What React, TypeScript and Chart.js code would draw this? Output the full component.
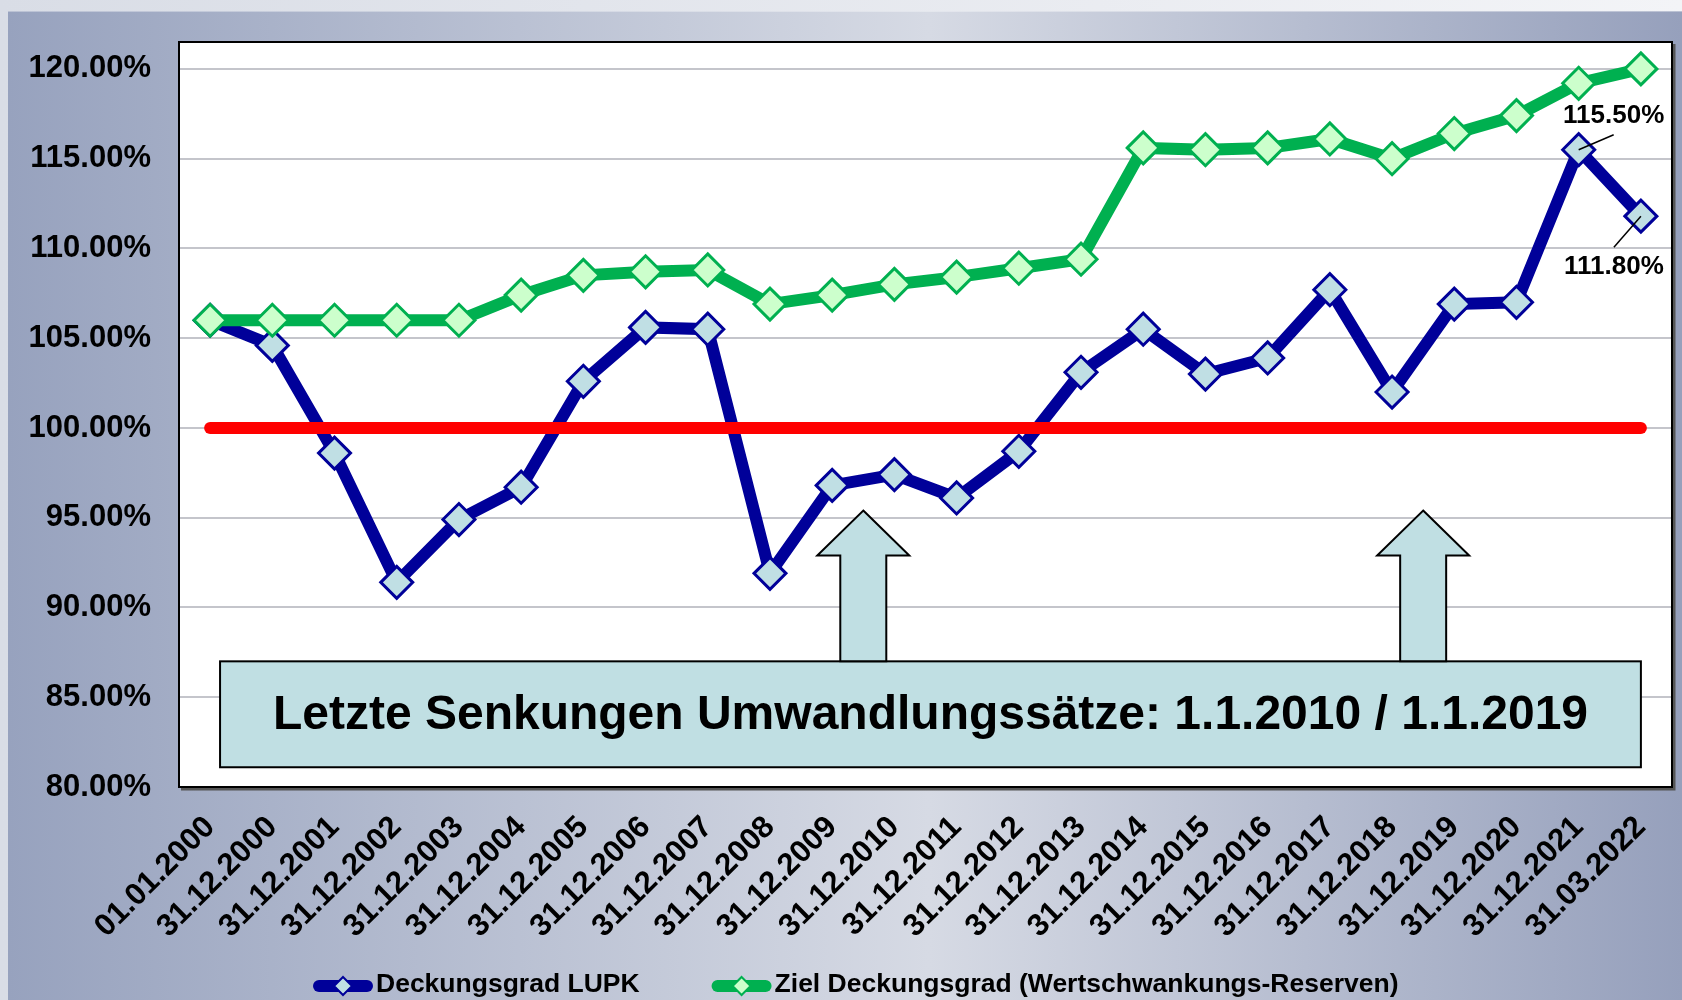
import React, { useEffect, useRef } from 'react';
import { Chart, registerables } from 'chart.js';

Chart.register(...registerables);

const FONT = '"Liberation Sans", Arial, Helvetica, sans-serif';

const categories = [
  '01.01.2000', '31.12.2000', '31.12.2001', '31.12.2002', '31.12.2003', '31.12.2004',
  '31.12.2005', '31.12.2006', '31.12.2007', '31.12.2008', '31.12.2009', '31.12.2010',
  '31.12.2011', '31.12.2012', '31.12.2013', '31.12.2014', '31.12.2015', '31.12.2016',
  '31.12.2017', '31.12.2018', '31.12.2019', '31.12.2020', '31.12.2021', '31.03.2022',
];

const deckungsgradLUPK = [
  106.0, 104.6, 98.6, 91.4, 94.9, 96.7, 102.6, 105.6, 105.5, 91.9, 96.8, 97.4,
  96.1, 98.7, 103.1, 105.5, 103.0, 103.9, 107.7, 102.0, 106.9, 107.0, 115.5, 111.8,
];

const zielDeckungsgrad = [
  106.0, 106.0, 106.0, 106.0, 106.0, 107.4, 108.5, 108.7, 108.8, 106.9, 107.4, 108.0,
  108.4, 108.9, 109.4, 115.6, 115.5, 115.6, 116.1, 115.0, 116.4, 117.4, 119.2, 120.0,
];

const yTickValues = [80, 85, 90, 95, 100, 105, 110, 115, 120];
const referenceLevel = 100;
// category positions of the conversion-rate cuts (1.1.2010 and 1.1.2019 lie between the year-end slots)
const senkungPositions = [10.5, 19.5];
const annotationText = 'Letzte Senkungen Umwandlungssätze: 1.1.2010 / 1.1.2019';
const labeledPoints = [22, 23];

const LUPK_LINE = '#000099';
const LUPK_FILL = '#c0dfe4';
const ZIEL_LINE = '#00b050';
const ZIEL_FILL = '#ccffcc';
const BOX_FILL = '#c0dfe3';

function drawDiamond(ctx: CanvasRenderingContext2D, x: number, y: number, r: number, fill: string, stroke: string, lw: number) {
  ctx.beginPath();
  ctx.moveTo(x, y - r);
  ctx.lineTo(x + r, y);
  ctx.lineTo(x, y + r);
  ctx.lineTo(x - r, y);
  ctx.closePath();
  ctx.fillStyle = fill;
  ctx.fill();
  ctx.lineWidth = lw;
  ctx.strokeStyle = stroke;
  ctx.stroke();
}

const decorPlugin = {
  id: 'decor',
  beforeDraw(chart: any) {
    const { ctx, width, height, chartArea: ca } = chart;
    ctx.save();
    let g = ctx.createLinearGradient(0, 0, width, 0);
    g.addColorStop(0, '#d9dde6');
    g.addColorStop(1, '#f3f4f7');
    ctx.fillStyle = g;
    ctx.fillRect(0, 0, width, height);

    g = ctx.createLinearGradient(8, 0, width, 0);
    g.addColorStop(0, '#97a2be');
    g.addColorStop(0.55, '#d6dae4');
    g.addColorStop(1, '#96a0bc');
    ctx.fillStyle = g;
    ctx.fillRect(8, 11, width - 8, height - 11);
    ctx.fillStyle = 'rgba(255,255,255,0.35)';
    ctx.fillRect(8, 11, width - 8, 1);

    ctx.fillStyle = '#ffffff';
    ctx.fillRect(ca.left, ca.top, ca.right - ca.left, ca.bottom - ca.top);
    ctx.restore();
  },
  afterDatasetsDraw(chart: any) {
    const { ctx, chartArea: ca, scales } = chart;
    const xs = scales.x;
    const ys = scales.y;
    ctx.save();

    // plot border
    ctx.strokeStyle = '#555555';
    ctx.lineWidth = 3;
    ctx.beginPath();
    ctx.moveTo(ca.left + 2, ca.bottom + 2);
    ctx.lineTo(ca.right + 2, ca.bottom + 2);
    ctx.lineTo(ca.right + 2, ca.top + 2);
    ctx.stroke();
    ctx.strokeStyle = '#000000';
    ctx.lineWidth = 2;
    ctx.strokeRect(ca.left, ca.top, ca.right - ca.left, ca.bottom - ca.top);

    // 100% reference line
    const yRef = ys.getPixelForValue(referenceLevel);
    ctx.strokeStyle = '#ff0000';
    ctx.lineWidth = 12;
    ctx.lineCap = 'round';
    ctx.beginPath();
    ctx.moveTo(xs.getPixelForValue(0), yRef);
    ctx.lineTo(xs.getPixelForValue(categories.length - 1), yRef);
    ctx.stroke();
    ctx.lineCap = 'butt';

    // annotation box
    const bx0 = xs.getPixelForValue(0.16);
    const bx1 = xs.getPixelForValue(categories.length - 1);
    const by0 = ys.getPixelForValue(87.0);
    const by1 = ys.getPixelForValue(81.1);
    ctx.fillStyle = BOX_FILL;
    ctx.fillRect(bx0, by0, bx1 - bx0, by1 - by0);
    ctx.strokeStyle = '#000000';
    ctx.lineWidth = 2;
    ctx.strokeRect(bx0, by0, bx1 - bx0, by1 - by0);
    ctx.fillStyle = '#000000';
    ctx.font = `bold 48px ${FONT}`;
    ctx.textAlign = 'center';
    ctx.textBaseline = 'middle';
    ctx.fillText(annotationText, (bx0 + bx1) / 2, (by0 + by1) / 2 + 1);

    // arrows
    const tipY = ys.getPixelForValue(95.4);
    senkungPositions.forEach((pos) => {
      const x = xs.getPixelForValue(pos);
      const headH = 45, headW = 46, shaftW = 23;
      ctx.beginPath();
      ctx.moveTo(x, tipY);
      ctx.lineTo(x + headW, tipY + headH);
      ctx.lineTo(x + shaftW, tipY + headH);
      ctx.lineTo(x + shaftW, by0);
      ctx.lineTo(x - shaftW, by0);
      ctx.lineTo(x - shaftW, tipY + headH);
      ctx.lineTo(x - headW, tipY + headH);
      ctx.closePath();
      ctx.fillStyle = BOX_FILL;
      ctx.fill();
      ctx.strokeStyle = '#000000';
      ctx.lineWidth = 2;
      ctx.stroke();
    });

    // value labels with leader lines
    const offsets = [
      { lx: 35, ly: -15, tx: 35, ty: -34 },
      { lx: -27, ly: 31, tx: -27, ty: 51 },
    ];
    ctx.font = `bold 26px ${FONT}`;
    ctx.textAlign = 'center';
    ctx.textBaseline = 'middle';
    labeledPoints.forEach((idx, k) => {
      const v = deckungsgradLUPK[idx];
      const px = xs.getPixelForValue(idx);
      const py = ys.getPixelForValue(v);
      const o = offsets[k];
      ctx.strokeStyle = '#000000';
      ctx.lineWidth = 1.5;
      ctx.beginPath();
      ctx.moveTo(px, py);
      ctx.lineTo(px + o.lx, py + o.ly);
      ctx.stroke();
      ctx.fillStyle = '#000000';
      ctx.fillText(v.toFixed(2) + '%', px + o.tx, py + o.ty);
    });
    ctx.restore();
  },
  afterDraw(chart: any) {
    const { ctx } = chart;
    const ds = chart.data.datasets;
    const items = [ds[1], ds[0]];
    ctx.save();
    ctx.font = `bold 26.5px ${FONT}`;
    ctx.textBaseline = 'middle';
    ctx.textAlign = 'left';
    let x = 313;
    const y = 985;
    items.forEach((d: any) => {
      ctx.strokeStyle = d.borderColor;
      ctx.lineWidth = 12;
      ctx.lineCap = 'round';
      ctx.beginPath();
      ctx.moveTo(x + 6, y + 1);
      ctx.lineTo(x + 54, y + 1);
      ctx.stroke();
      drawDiamond(ctx, x + 30, y + 1, 9, d.pointBackgroundColor, d.pointBorderColor, 2);
      ctx.fillStyle = '#000000';
      ctx.fillText(d.label, x + 63, y);
      x += 63 + ctx.measureText(d.label).width + 72;
    });
    ctx.restore();
  },
};

export default function App() {
  const canvasRef = useRef<HTMLCanvasElement | null>(null);

  useEffect(() => {
    document.body.style.margin = '0';
    const canvas = canvasRef.current;
    if (!canvas) return;
    const chart = new Chart(canvas, {
      type: 'line',
      data: {
        labels: categories,
        datasets: [
          {
            label: 'Ziel Deckungsgrad (Wertschwankungs-Reserven)',
            data: zielDeckungsgrad,
            borderColor: ZIEL_LINE,
            borderWidth: 12,
            pointStyle: 'rectRot',
            pointRadius: 16,
            pointBorderWidth: 3,
            pointBackgroundColor: ZIEL_FILL,
            pointBorderColor: ZIEL_LINE,
            tension: 0,
            fill: false,
          },
          {
            label: 'Deckungsgrad LUPK',
            data: deckungsgradLUPK,
            borderColor: LUPK_LINE,
            borderWidth: 12,
            pointStyle: 'rectRot',
            pointRadius: 16,
            pointBorderWidth: 3,
            pointBackgroundColor: LUPK_FILL,
            pointBorderColor: LUPK_LINE,
            tension: 0,
            fill: false,
          },
        ],
      },
      options: {
        animation: false,
        responsive: false,
        events: [],
        devicePixelRatio: 1,
        layout: { autoPadding: false, padding: { top: 42, right: 10, bottom: 60, left: 0 } },
        plugins: {
          legend: { display: false },
          tooltip: { enabled: false },
          title: { display: false },
        },
        scales: {
          x: {
            type: 'category',
            offset: true,
            grid: { display: false, drawTicks: false },
            border: { display: false },
            ticks: {
              autoSkip: false,
              minRotation: 45,
              maxRotation: 45,
              padding: 22,
              color: '#000000',
              font: { family: FONT, size: 31, weight: 'bold' },
            },
            afterFit: (scale: any) => {
              scale.height = 153;
              scale.paddingLeft = 0;
              scale.paddingRight = 0;
            },
          },
          y: {
            min: 80,
            max: 121.5,
            grid: { color: '#c4c5cb', lineWidth: 2, drawTicks: false },
            border: { display: false },
            afterBuildTicks: (scale: any) => {
              scale.ticks = yTickValues.map((v) => ({ value: v }));
            },
            ticks: {
              padding: 28,
              color: '#000000',
              font: { family: FONT, size: 31, weight: 'bold' },
              callback: (v: any) => Number(v).toFixed(2) + '%',
            },
            afterFit: (scale: any) => {
              scale.width = 179;
              scale.paddingTop = 0;
              scale.paddingBottom = 0;
            },
          },
        },
      },
      plugins: [decorPlugin],
    } as any);
    return () => chart.destroy();
  }, []);

  return (
    <div style={{ width: 1682, height: 1000 }}>
      <canvas ref={canvasRef} width={1682} height={1000} style={{ display: 'block' }} />
    </div>
  );
}
